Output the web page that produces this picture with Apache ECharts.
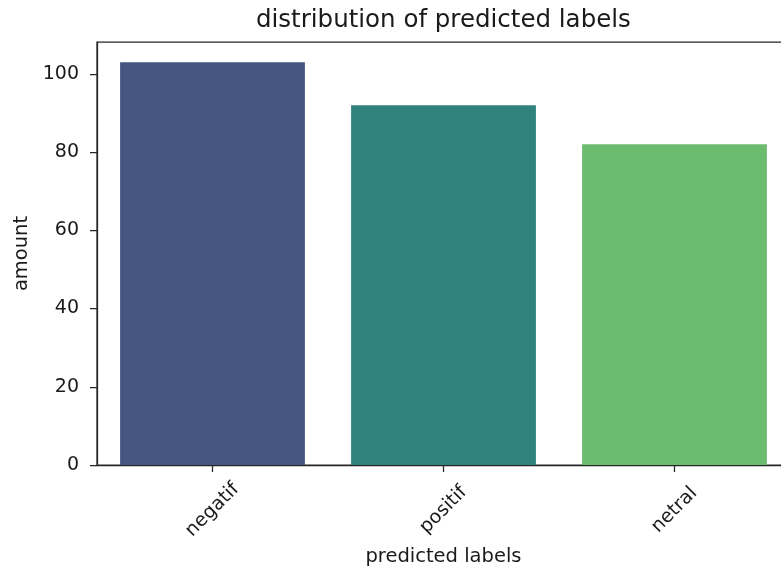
<!DOCTYPE html>
<html>
<head>
<meta charset="utf-8">
<script src="https://cdn.jsdelivr.net/npm/echarts@6/dist/echarts.min.js"></script>
<style>
html,body{margin:0;padding:0;background:#fff;}
#chart{width:781px;height:570px;}
</style>
</head>
<body>
<div id="chart"></div>
<script>
const categories = ['negatif', 'positif', 'netral'];
const amounts = [103, 92, 82];
const barColors = ['#455681', '#2f827e', '#6bbc6e'];
const yTicks = [0, 20, 40, 60, 80, 100];
const yMax = 108.15;

const FONT = '"DejaVu Sans", sans-serif';
const TXT = '#1a1a1a';
const AX = '#262626';

const chart = echarts.init(document.getElementById('chart'), null, {renderer: 'canvas'});
chart.setOption({
  animation: false,
  backgroundColor: '#fff',
  title: {
    text: 'distribution of predicted labels',
    left: 251,
    top: 3,
    textStyle: {fontFamily: FONT, fontSize: 24.5, fontWeight: 'normal', color: TXT}
  },
  grid: {
    left: 97, top: 42, width: 693, height: 423,
    outerBoundsMode: 'none',
    containLabel: false,
    show: true, borderColor: AX, borderWidth: 1.25, backgroundColor: 'transparent'
  },
  xAxis: {
    type: 'category',
    data: categories,
    name: 'predicted labels',
    nameLocation: 'middle',
    nameGap: 80,
    nameTextStyle: {fontFamily: FONT, fontSize: 19.5, color: TXT},
    axisLine: {show: true, lineStyle: {color: AX, width: 1.25}},
    axisTick: {show: true, alignWithLabel: true, length: 7, lineStyle: {color: AX, width: 1.25}},
    axisLabel: {
      rotate: 45, align: 'center', verticalAlign: 'middle', margin: 45,
      fontFamily: FONT, fontSize: 19, color: TXT
    },
    splitLine: {show: false}
  },
  yAxis: {
    type: 'value',
    min: 0, max: yMax, interval: 20,
    name: 'amount',
    nameLocation: 'middle',
    nameGap: 64,
    nameTextStyle: {fontFamily: FONT, fontSize: 19.5, color: TXT},
    axisLine: {show: true, lineStyle: {color: AX, width: 1.25}},
    axisTick: {show: true, length: 7, customValues: yTicks, lineStyle: {color: AX, width: 1.25}},
    axisLabel: {margin: 18, customValues: yTicks, fontFamily: FONT, fontSize: 19, color: TXT},
    splitLine: {show: false}
  },
  series: [{
    type: 'bar',
    barWidth: '80%',
    data: amounts.map((v, i) => ({value: v, itemStyle: {color: barColors[i]}}))
  }]
});
</script>
</body>
</html>
